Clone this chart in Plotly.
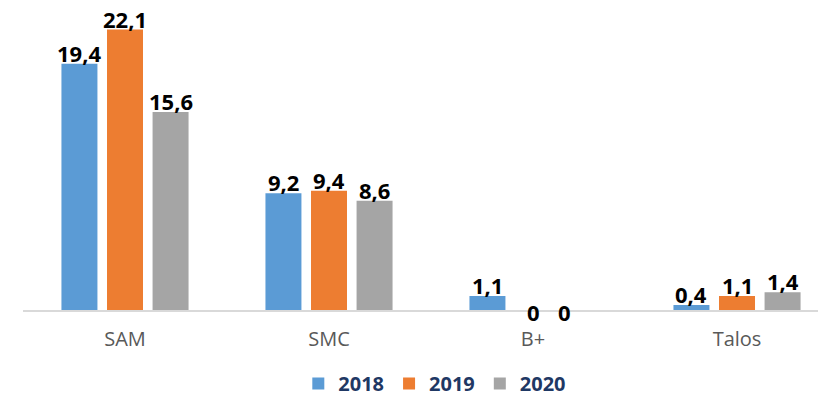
import plotly.graph_objects as go

categories = ["SAM", "SMC", "B+", "Talos"]
years = ["2018", "2019", "2020"]
values_2018 = [19.4, 9.2, 1.1, 0.4]
values_2019 = [22.1, 9.4, 0, 1.1]
values_2020 = [15.6, 8.6, 0, 1.4]
series = [values_2018, values_2019, values_2020]
colors = ["#5B9BD5", "#ED7D31", "#A5A5A5"]

W, H = 818, 403
ML, MR, MT, MB = 23, 0, 10, 93
XRANGE = [-0.5, 3.397]
YRANGE = [0, 23.64]
BARGAP = 0.33
BARGROUPGAP = 0.21

def fmt(v):
    s = ("%.1f" % v).replace(".", ",")
    if s.endswith(",0"):
        s = s[:-2]
    return s

fig = go.Figure()
for name, vals, col in zip(years, series, colors):
    fig.add_trace(go.Bar(
        x=categories, y=vals, name="<b>%s</b>" % name,
        marker=dict(color=col, line=dict(width=0)),
    ))

# data labels
plot_w = W - ML - MR
cat_px = plot_w / (XRANGE[1] - XRANGE[0])
slot_px = cat_px * (1 - BARGAP) / len(years)
label_font = dict(family="Open Sans", size=22, color="#000000")
for i, vals in enumerate(series):
    for c, v in zip(categories, vals):
        txt = "<b>%s</b>" % fmt(v)
        if v == 0:
            xs = [-45, 0, 31][i]
            fig.add_annotation(x=c, y=0, text=txt, showarrow=False,
                               xshift=xs, yshift=-2, yanchor="middle",
                               font=label_font)
        else:
            fig.add_annotation(x=c, y=v, text=txt, showarrow=False,
                               xshift=(i - 1) * slot_px,
                               yshift=-6, yanchor="bottom", font=label_font)

fig.update_layout(
    width=W, height=H,
    margin=dict(l=ML, r=MR, t=MT, b=MB, autoexpand=False),
    paper_bgcolor="white", plot_bgcolor="white",
    barmode="group", bargap=BARGAP, bargroupgap=BARGROUPGAP,
    showlegend=True,
    legend=dict(orientation="h", x=0.518, xanchor="center",
                yref="container", y=0, yanchor="bottom",
                font=dict(family="Open Sans", size=20, color="#1F3864"),
                itemclick=False, itemdoubleclick=False,
                bgcolor="rgba(0,0,0,0)"),
    xaxis=dict(range=XRANGE, showgrid=False, showline=True,
               linecolor="#D9D9D9", linewidth=2,
               ticks="", ticklabelstandoff=10,
               tickfont=dict(family="Open Sans", size=20, color="#595959")),
    yaxis=dict(range=YRANGE, visible=False, showgrid=False, zeroline=False),
)

fig.write_html("out.html",
               config={"displayModeBar": False},
               post_script="document.body.style.margin='0';document.body.style.padding='0';")
